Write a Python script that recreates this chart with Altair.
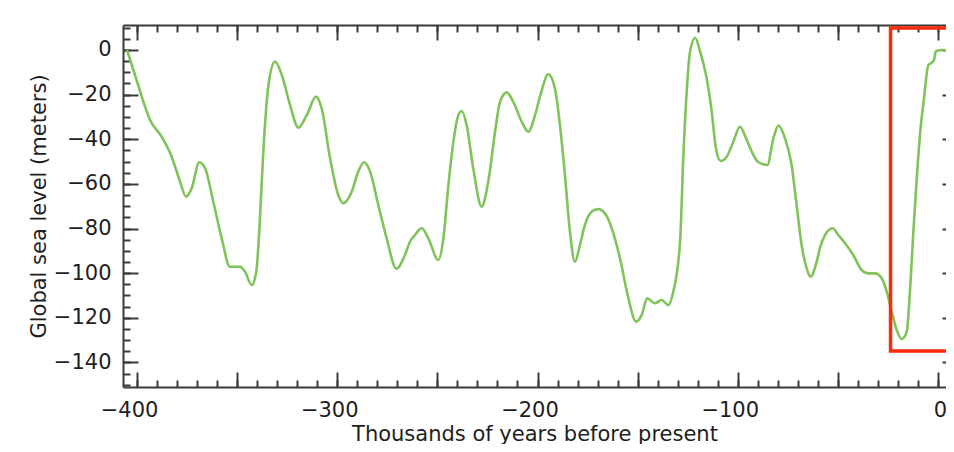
import altair as alt
import pandas as pd

# ---- data (thousands of years, metres) ----
years = [
    -405.0, -401.0, -396.8, -393.5, -387.7, -382.7, -378.5, -375.5, -372.7, -368.9,
    -366.0, -361.9, -357.7, -353.6, -348.6, -346.1, -342.7, -340.4, -339.0, -336.9,
    -334.4, -331.1, -327.7, -323.6, -319.4, -315.2, -310.6, -307.8, -303.6, -299.5,
    -297.0, -292.8, -289.5, -286.6, -283.6, -279.5, -275.3, -270.5, -266.2, -263.7,
    -261.2, -257.8, -254.5, -249.5, -247.0, -244.5, -242.0, -240.0, -237.9, -235.4,
    -232.1, -227.9, -224.6, -221.2, -218.7, -215.4, -212.1, -207.9, -204.6, -201.2,
    -198.5, -194.6, -191.3, -188.8, -186.3, -183.8, -181.3, -178.8, -176.3, -172.9,
    -169.6, -166.3, -162.9, -158.8, -154.6, -150.8, -148.0, -145.2, -141.3, -138.0,
    -134.7, -132.2, -128.8, -127.2, -125.5, -123.8, -121.3, -118.8, -115.5, -113.0,
    -110.9, -108.5, -105.5, -102.2, -98.9, -95.5, -93.0, -89.7, -85.2, -82.2,
    -79.7, -76.4, -73.1, -70.6, -68.1, -65.6, -63.6, -60.6, -58.9, -56.4,
    -52.6, -49.8, -46.4, -42.3, -38.1, -34.8, -31.5, -28.1, -25.6, -23.1,
    -20.6, -18.1, -15.6, -14.0, -12.3, -10.6, -9.0, -7.0, -4.8, -3.6,
    -2.0, -1.0, 2.6, 10.0,
]
levels = [
    0.0, -11.2, -23.2, -31.4, -38.8, -47.8, -59.0, -65.7, -62.0, -50.3,
    -53.0, -68.0, -84.4, -97.1, -97.1, -99.3, -105.3, -99.0, -82.0, -45.0,
    -16.0, -5.2, -11.2, -24.6, -34.8, -29.1, -20.9, -26.1, -48.5, -65.0,
    -68.7, -63.5, -54.5, -50.3, -54.5, -69.5, -84.4, -98.0, -91.9, -85.9,
    -82.9, -79.9, -84.4, -94.1, -84.4, -60.5, -41.1, -30.6, -27.3, -33.6,
    -53.0, -70.2, -59.0, -36.6, -23.2, -19.0, -23.2, -32.1, -36.6, -29.1,
    -20.0, -10.9, -17.2, -33.6, -56.0, -81.4, -94.9, -87.4, -78.4, -72.4,
    -71.3, -73.2, -79.9, -93.4, -111.3, -121.7, -118.8, -111.3, -113.5, -112.0,
    -114.3, -108.3, -85.9, -48.5, -18.7, -0.7, 5.5, -0.7, -12.7, -27.6,
    -44.1, -49.7, -47.8, -41.1, -34.4, -40.3, -45.6, -50.3, -51.5, -39.6,
    -33.9, -39.6, -51.5, -69.5, -87.4, -97.8, -101.6, -94.9, -88.5, -82.9,
    -79.9, -82.9, -86.6, -91.9, -98.6, -100.1, -100.1, -102.3, -108.3, -117.3,
    -125.5, -129.5, -126.2, -108.3, -81.4, -57.5, -38.1, -21.7, -6.7, -6.0,
    -4.5, -0.4, 0.0, 0.0,
]

x_labels = [-400, -300, -200, -100, 0]
y_labels = [-140, -120, -100, -80, -60, -40, -20, 0]
x_major = list(range(-400, 1, 50))
x_minor = list(range(-400, 1, 10))
y_major = list(range(-140, 1, 20))
y_minor = list(range(-150, 11, 5))

# highlighted region (red box)
box_x0, box_x1 = [-23.7], [20.0]
box_y0, box_y1 = [-134.9], [9.9]

# ---- styling ----
W, H = 823, 362
FONT = "DejaVu Sans"
AX = "#3a3a3a"
TXT = "#1e1e1e"
GREEN = "#80c35a"
RED = "#ff2a0a"

df = pd.DataFrame({"year": years, "level": levels})
box = pd.DataFrame({"x0": box_x0, "x1": box_x1, "y0": box_y0, "y1": box_y1})

xscale = alt.Scale(domain=[-407, 4.0], nice=False, zero=False)
yscale = alt.Scale(domain=[-151, 11.2], nice=False, zero=False)


def tick_axis(orient, offset, values, size, domain=False):
    return alt.Axis(
        orient=orient, offset=offset, values=values, ticks=True, tickSize=size,
        tickWidth=2, tickColor=AX, labels=False, domain=domain, domainColor=AX,
        domainWidth=2, grid=False, title=None,
    )


def enc(xa, ya):
    return dict(
        x=alt.X("year:Q", scale=xscale, axis=xa),
        y=alt.Y("level:Q", scale=yscale, axis=ya),
    )


x_label_axis = alt.Axis(
    orient="bottom", values=x_labels, format="d", ticks=False, tickSize=0,
    labelFont=FONT, labelFontSize=21, labelColor=TXT, labelPadding=12,
    labelOffset={"condition": {"test": "datum.value < 0", "value": -8}, "value": 2},
    labelFlush=False, domain=True, domainColor=AX, domainWidth=2, grid=False,
    title="Thousands of years before present", titleFont=FONT, titleFontSize=21,
    titleFontWeight="normal", titleColor=TXT, titleY=53, titleBaseline="alphabetic",
)
y_label_axis = alt.Axis(
    orient="left", values=y_labels, format="d", ticks=False, tickSize=0,
    labelFont=FONT, labelFontSize=21, labelColor=TXT, labelPadding=12,
    labelFlush=False, domain=True, domainColor=AX, domainWidth=2, grid=False,
    title="Global sea level (meters)", titleFont=FONT, titleFontSize=21,
    titleFontWeight="normal", titleColor=TXT, titlePadding=4,
)

inv = lambda xa, ya: alt.Chart(df).mark_line(opacity=0).encode(**enc(xa, ya))

RIGHT_EDGE = -(W + 11)  # right frame of the original box lies just past the crop

layers = [
    # bottom edge, inward ticks
    inv(tick_axis("top", -H, x_major, 15), tick_axis("right", -W, y_major, 15)),
    inv(tick_axis("top", -H, x_minor, 7), tick_axis("right", -W, y_minor, 7)),
    # top edge, inward ticks (+ top border) and right edge ticks
    inv(tick_axis("bottom", -H, x_major, 15, domain=True), tick_axis("left", RIGHT_EDGE, y_major, 15)),
    inv(tick_axis("bottom", -H, x_minor, 7), tick_axis("left", RIGHT_EDGE, y_minor, 7)),
    # the curve with labelled axes
    alt.Chart(df).mark_line(color=GREEN, strokeWidth=2.6, interpolate="monotone", clip=True)
    .encode(**enc(x_label_axis, y_label_axis)),
    # red highlight box
    alt.Chart(box).mark_rect(fill="transparent", stroke=RED, strokeWidth=3.5, clip=True)
    .encode(
        x=alt.X("x0:Q", scale=xscale, axis=None), x2="x1",
        y=alt.Y("y0:Q", scale=yscale, axis=None), y2="y1",
    ),
]

chart = (
    alt.layer(*layers)
    .resolve_axis(x="independent", y="independent")
    .properties(
        width=W, height=H,
        autosize=alt.AutoSizeParams(type="none"),
        padding={"left": 115, "top": 17, "right": 0, "bottom": 57},
        background="white",
    )
    .configure_view(strokeWidth=0)
)

chart.save("out.html", embed_options={"renderer": "svg", "actions": False})
